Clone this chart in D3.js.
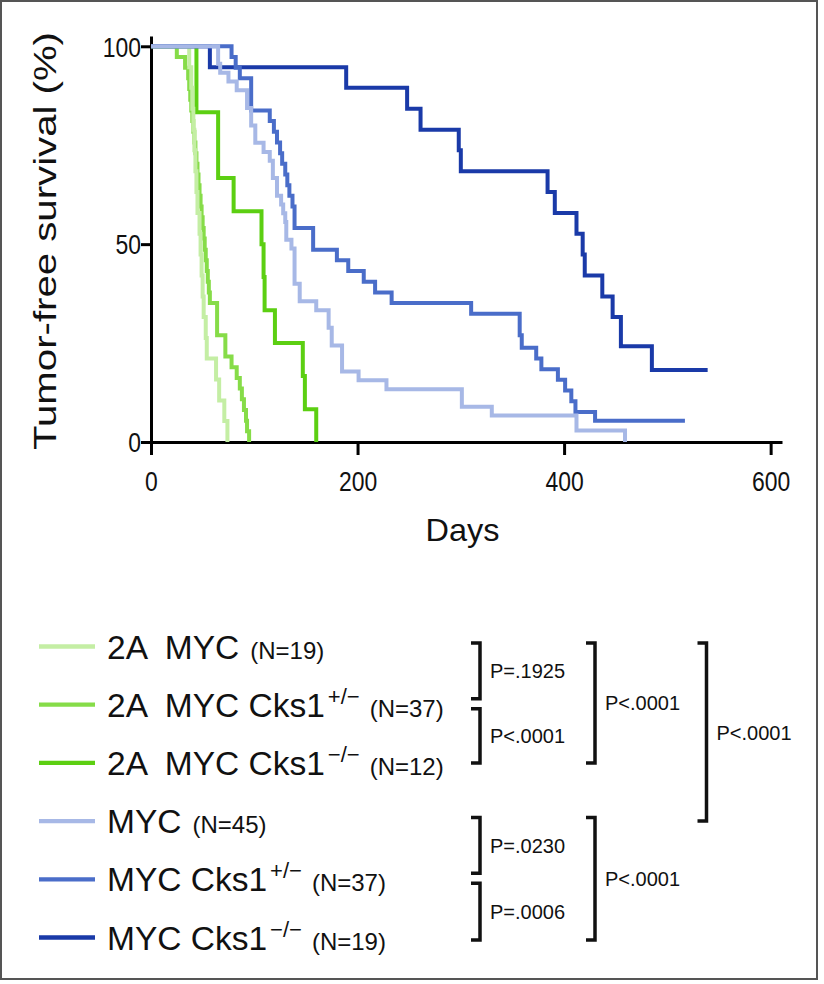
<!DOCTYPE html>
<html>
<head>
<meta charset="utf-8">
<script src="https://cdn.jsdelivr.net/npm/d3@7"></script>
<style>
  html, body { margin: 0; padding: 0; background: #fff; }
  svg { display: block; }
  text { font-family: "Liberation Sans", Arial, Helvetica, sans-serif; fill: #111; }
</style>
</head>
<body>
<svg id="chart" width="824" height="984"></svg>
<script>
// ---------------- DATA ----------------
const seriesNames = ["2A MYC", "2A MYC Cks1+/-", "2A MYC Cks1-/-", "MYC", "MYC Cks1+/-", "MYC Cks1-/-"];
const seriesN = [19, 37, 12, 45, 37, 19];
const seriesColors = ["#c4eea4", "#86dc48", "#5ccf12", "#a7b8e6", "#4a6dc9", "#1a3aa8"];

// Kaplan-Meier step points: [day, survival %] (value holds from that day on)
const km2AMyc = [[0,100],[37,94.7],[39,89.5],[40,84.2],[41,78.9],[42,73.7],[43,68.4],[44,63.2],[45,57.9],[47,52.6],[48,47.4],[49,42.1],[50,36.8],[51,31.6],[53,26.3],[54,21.1],[63,15.8],[66,10.5],[71,5.3],[74,0]];
const km2AMycCksHet = [[0,100],[25,97.3],[33,94.6],[36,91.9],[37,89.2],[38,86.5],[39,83.8],[40,81.1],[41,78.4],[42,75.7],[43,73],[44,70.3],[45,67.6],[46,64.9],[47,62.2],[48,59.5],[49,56.8],[50,54.1],[51,51.4],[52,48.6],[53,45.9],[54,43.2],[55,40.5],[56,37.8],[57,35.1],[64,27],[72,21.6],[78,18.9],[83,16.2],[86,13.5],[88,10.8],[90,8.1],[92,5.4],[93,2.7],[95,0]];
const km2AMycCksKo = [[0,100],[44,83.3],[65,66.7],[80,58.3],[107,50],[109,41.7],[110,33.3],[120,25],[147,16.7],[149,8.3],[160,0]];
const kmMyc = [[0,100],[65,95.6],[67,93.3],[75,91.1],[83,88.9],[93,84.4],[97,80],[101,75.6],[109,73.3],[115,71.1],[118,66.7],[122,62.2],[126,60],[128,57.8],[130,55.6],[131,51.1],[136,48.9],[139,40],[144,35.6],[160,33.3],[172,28.9],[175,24.4],[185,17.8],[201,15.6],[228,13.3],[301,8.9],[330,6.7],[412,2.9],[459,0]];
const kmMycCksHet = [[0,100],[78,97.3],[82,94.6],[86,91.9],[97,83.8],[115,81.1],[119,78.4],[122,75.7],[125,73],[127,70.3],[130,67.6],[132,64.9],[134,62.2],[137,59.5],[139,54.1],[157,48.6],[180,45.9],[191,43.2],[206,40.5],[217,37.8],[233,35.1],[310,32.4],[357,27],[359,23.8],[373,21.1],[378,18.4],[394,15.7],[401,13],[407,10.3],[411,7.6],[430,5.4],[517,5.4]];
const kmMycCksKo = [[0,100],[57,94.7],[189,89.5],[248,84.2],[261,78.9],[298,73.7],[300,68.4],[384,63.2],[391,57.9],[412,52.6],[418,47.4],[420,42.1],[437,36.8],[447,31.6],[455,24.2],[485,18.2],[539,18.2]];
const seriesData = [km2AMyc, km2AMycCksHet, km2AMycCksKo, kmMyc, kmMycCksHet, kmMycCksKo];

// legend text pieces
const legendMain = ["2A  MYC", "2A  MYC Cks1", "2A  MYC Cks1", "MYC", "MYC Cks1", "MYC Cks1"];
const legendSup = ["", "+/\u2212", "\u2212/\u2212", "", "+/\u2212", "\u2212/\u2212"];

const xTicks = [0, 200, 400, 600];
const yTicks = [0, 50, 100];

// comparison brackets: [first row, last row, column, label]
const brackets = [
  [0, 1, 0, "P=.1925"],
  [1, 2, 0, "P<.0001"],
  [0, 2, 1, "P<.0001"],
  [0, 3, 2, "P<.0001"],
  [3, 4, 0, "P=.0230"],
  [4, 5, 0, "P=.0006"],
  [3, 5, 1, "P<.0001"]
];

// ---------------- LAYOUT ----------------
const svg = d3.select("#chart");
svg.append("rect").attr("x", 1).attr("y", 1).attr("width", 816).attr("height", 978)
  .attr("fill", "none").attr("stroke", "#555").attr("stroke-width", 2);

const x = d3.scaleLinear().domain([0, 611]).range([151, 782]);
const y = d3.scaleLinear().domain([0, 102.6]).range([442, 36]);

// axes
const gx = svg.append("g").attr("transform", `translate(0,${y(0)})`)
  .call(d3.axisBottom(x).tickValues(xTicks).tickSize(13).tickSizeOuter(0).tickPadding(17));
const gy = svg.append("g").attr("transform", `translate(${x(0)},0)`)
  .call(d3.axisLeft(y).tickValues(yTicks).tickSize(10).tickSizeOuter(0).tickPadding(0));
[gx, gy].forEach(g => {
  g.select(".domain").attr("stroke", "#000").attr("stroke-width", 3);
  g.selectAll(".tick line").attr("stroke", "#000").attr("stroke-width", 3);
  g.selectAll(".tick text").attr("fill", "#111").attr("font-size", 27)
    .attr("font-family", "'Liberation Sans', Arial, sans-serif");
});
// condensed look for tick labels: squeeze horizontally about their anchor point
gx.selectAll(".tick text").attr("transform", "scale(0.85,1)");
gy.selectAll(".tick text").attr("dy", "0.36em")
  .attr("transform", "translate(-10,0) scale(0.85,1) translate(10,0)");

// axis titles
svg.append("text")
  .attr("transform", `translate(56,${(y(0) + y(102.6)) / 2 + 2}) rotate(-90)`)
  .attr("text-anchor", "middle")
  .attr("font-size", 31)
  .attr("textLength", 418).attr("lengthAdjust", "spacingAndGlyphs")
  .text("Tumor-free survival (%)");
svg.append("text")
  .attr("x", (x(0) + x(611)) / 2 - 4).attr("y", 541)
  .attr("text-anchor", "middle")
  .attr("font-size", 32)
  .attr("textLength", 74).attr("lengthAdjust", "spacingAndGlyphs")
  .text("Days");

// curves
const line = d3.line().x(d => x(d[0])).y(d => y(d[1])).curve(d3.curveStepAfter);
const drawOrder = [2, 1, 0, 5, 4, 3];
drawOrder.forEach(i => {
  svg.append("path")
    .datum(seriesData[i])
    .attr("fill", "none")
    .attr("stroke", seriesColors[i])
    .attr("stroke-width", 4)
    .attr("stroke-linejoin", "miter")
    .attr("stroke-linecap", "butt")
    .attr("d", line);
});

// ---------------- LEGEND ----------------
const rowY = d3.scalePoint().domain(d3.range(6)).range([646.5, 937.5]);
const lg = svg.append("g");
seriesNames.forEach((name, i) => {
  const cy = rowY(i);
  lg.append("line").attr("x1", 39).attr("x2", 95).attr("y1", cy).attr("y2", cy)
    .attr("stroke", seriesColors[i]).attr("stroke-width", 4.3);
  const t = lg.append("text").attr("x", 107).attr("y", cy + 12)
    .attr("font-size", 33.5).style("white-space", "pre").attr("xml:space", "preserve");
  t.append("tspan").text(legendMain[i]);
  if (legendSup[i]) {
    t.append("tspan").attr("font-size", 22).attr("dy", -13).attr("dx", 3).text(legendSup[i]);
    t.append("tspan").attr("font-size", 24).attr("dy", 13).attr("dx", 10).text("(N=" + seriesN[i] + ")");
  } else {
    t.append("tspan").attr("font-size", 24).attr("dx", 11).text("(N=" + seriesN[i] + ")");
  }
});

// brackets: adjacent brackets in the same column leave a small gap at the shared row
const colX = [480, 595, 706.5];
const bg = svg.append("g");
brackets.forEach(([r0, r1, c, label]) => {
  const sharedTop = brackets.some(b => b[2] === c && b[1] === r0);
  const sharedBot = brackets.some(b => b[2] === c && b[0] === r1);
  const top = sharedTop ? rowY(r0) + 4 : rowY(r0) - 3.5;
  const bot = sharedBot ? rowY(r1) - 6 : rowY(r1) + (r1 === 5 ? 2.5 : 0);
  const bx = colX[c];
  bg.append("path")
    .attr("d", `M${bx - 9},${top}H${bx}V${bot}H${bx - 9}`)
    .attr("fill", "none").attr("stroke", "#111").attr("stroke-width", 3.5)
    .attr("stroke-linejoin", "miter");
  bg.append("text").attr("x", bx + 10).attr("y", (top + bot) / 2 + 7.5)
    .attr("font-size", 20).text(label);
});
</script>
</body>
</html>
